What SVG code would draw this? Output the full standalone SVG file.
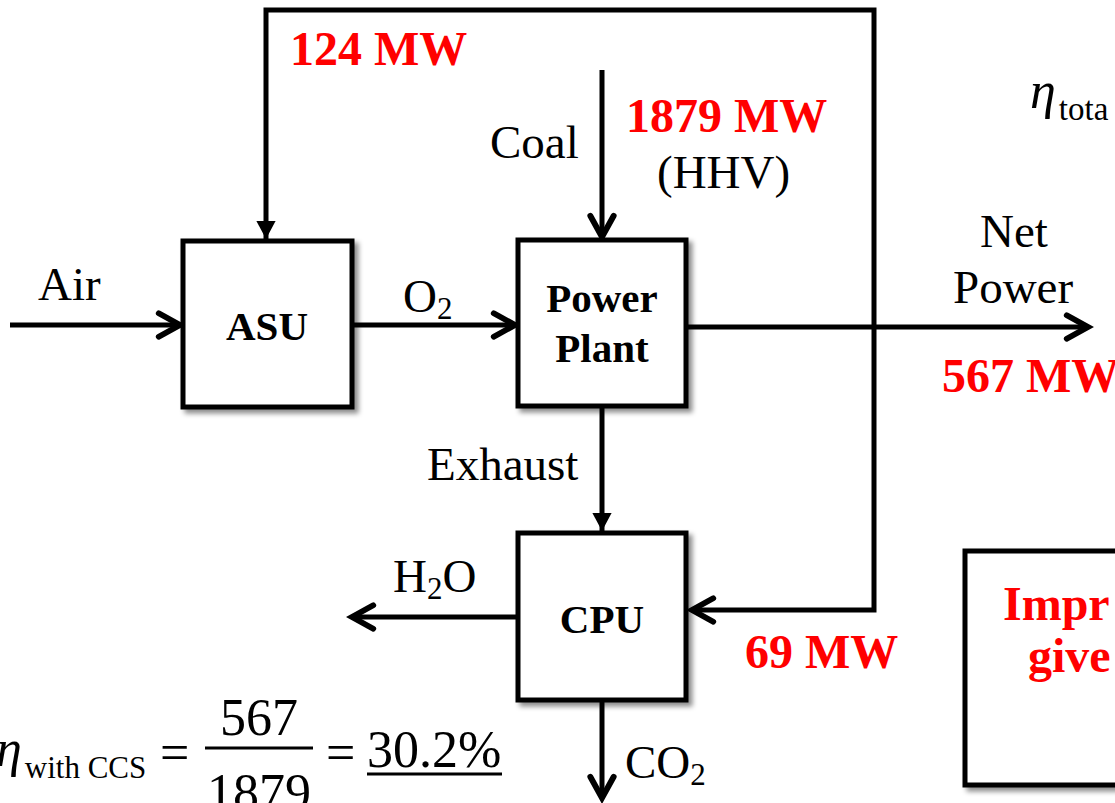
<svg xmlns="http://www.w3.org/2000/svg" width="1115" height="803" viewBox="0 0 1115 803">
<style>
  .box { fill: #fff; stroke: #000; stroke-width: 5; filter: url(#sh); }
  .ln { fill: none; stroke: #000; stroke-width: 5; }
  .t { font-family: "Liberation Serif", "Times New Roman", serif; font-size: 47px; fill: #000; }
  .b { font-family: "Liberation Serif", "Times New Roman", serif; font-size: 41px; font-weight: bold; fill: #000; }
  .r { font-family: "Liberation Serif", "Times New Roman", serif; font-size: 48px; font-weight: bold; fill: #ff0000; }
  .eq { font-family: "Liberation Serif", "Times New Roman", serif; font-size: 52px; fill: #000; }
</style>
<defs>
  <filter id="sh" x="-10%" y="-10%" width="125%" height="125%">
    <feDropShadow dx="4" dy="4" stdDeviation="2.5" flood-color="#000" flood-opacity="0.45"/>
  </filter>
  <marker id="chev" markerUnits="userSpaceOnUse" markerWidth="34" markerHeight="34" viewBox="-4 -16 32 32" refX="22" refY="0" orient="auto">
    <path d="M2,-11 L22,0 L2,11" fill="none" stroke="#000" stroke-width="5.5" stroke-linecap="round" stroke-linejoin="miter"/>
  </marker>
  <marker id="tri" markerUnits="userSpaceOnUse" markerWidth="24" markerHeight="24" viewBox="0 -10 16 20" refX="15" refY="0" orient="auto-start-reverse">
    <path d="M0,-8 L15,0 L0,8 Z" fill="#000"/>
  </marker>
</defs>

<g id="connectors">
  <path class="ln" d="M266,239 L266,10 L874,10 L874,610 L692,610" marker-start="url(#tri)" marker-end="url(#chev)"/>
  <path class="ln" d="M10,325 L180,325" marker-end="url(#chev)"/>
  <path class="ln" d="M352,325 L515,325" marker-end="url(#chev)"/>
  <path class="ln" d="M602,70 L602,237" marker-end="url(#chev)"/>
  <path class="ln" d="M686,327 L1088,327" marker-end="url(#chev)"/>
  <path class="ln" d="M602,406 L602,531" marker-end="url(#tri)"/>
  <path class="ln" d="M518,617 L352,617" marker-end="url(#chev)"/>
  <path class="ln" d="M602,700 L602,798" marker-end="url(#chev)"/>
</g>

<g id="asu">
  <rect class="box" x="183" y="241" width="169" height="166"/>
  <text class="b" x="267" y="340" text-anchor="middle">ASU</text>
</g>
<g id="power-plant">
  <rect class="box" x="518" y="240" width="168" height="166"/>
  <text class="b" x="602" y="312" text-anchor="middle">Power</text>
  <text class="b" x="602" y="362" text-anchor="middle">Plant</text>
</g>
<g id="cpu">
  <rect class="box" x="518" y="533" width="168" height="167"/>
  <text class="b" x="602" y="633" text-anchor="middle">CPU</text>
</g>
<g id="impr-box">
  <rect class="box" x="965" y="551" width="200" height="234"/>
  <text class="r" font-size="52" x="1003" y="620">Impr</text>
  <text class="r" font-size="52" x="1028" y="672">give</text>
</g>

<g id="labels">
  <text class="r" x="290" y="65">124 MW</text>
  <text class="t" x="490" y="158">Coal</text>
  <text class="r" x="626" y="132">1879 MW</text>
  <text class="t" x="657" y="188">(HHV)</text>
  <text class="t" x="1014" y="247" text-anchor="middle">Net</text>
  <text class="t" x="953" y="303">Power</text>
  <text class="r" x="942" y="392">567 MW</text>
  <text class="t" x="38" y="300">Air</text>
  <text class="t" x="403" y="312">O<tspan font-size="31" dy="7">2</tspan></text>
  <text class="t" x="427" y="480">Exhaust</text>
  <text class="t" x="393" y="592">H<tspan font-size="31" dy="7">2</tspan><tspan dy="-7">O</tspan></text>
  <text class="r" x="745" y="668">69 MW</text>
  <text class="t" x="625" y="778">CO<tspan font-size="31" dy="7">2</tspan></text>
  <text class="eq" font-size="68" x="1030" y="108"><tspan font-style="italic">η</tspan><tspan font-size="33" dx="3" dy="12">tota</tspan></text>
</g>

<g id="equation">
  <text class="eq" font-size="68" x="-4" y="766"><tspan font-style="italic">η</tspan><tspan font-size="31" dx="3" dy="12">with CCS</tspan></text>
  <text class="eq" x="160" y="770">=</text>
  <text class="eq" x="259" y="735" text-anchor="middle">567</text>
  <line x1="205" y1="748" x2="313" y2="748" stroke="#000" stroke-width="3"/>
  <text class="eq" x="259" y="810" text-anchor="middle">1879</text>
  <text class="eq" x="326" y="770">=</text>
  <text class="eq" x="367" y="767">30.2%</text>
  <line x1="367" y1="774" x2="502" y2="774" stroke="#000" stroke-width="3"/>
</g>
</svg>
